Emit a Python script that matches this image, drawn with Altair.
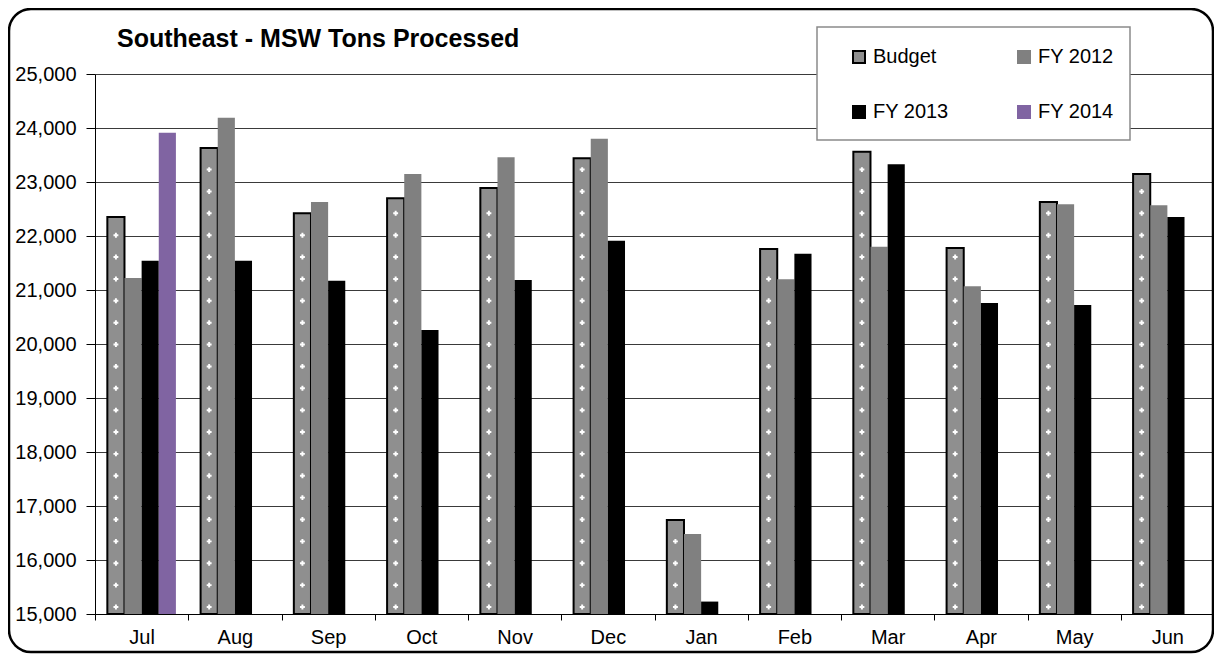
import altair as alt
import pandas as pd

FONT = "Liberation Sans, Arial, sans-serif"

months = ["Jul", "Aug", "Sep", "Oct", "Nov", "Dec", "Jan", "Feb", "Mar", "Apr", "May", "Jun"]
budget = [22350, 23630, 22420, 22700, 22890, 23440, 16740, 21760, 23560, 21780, 22630, 23150]
fy2012 = [21220, 24190, 22630, 23150, 23460, 23800, 16480, 21200, 21800, 21070, 22590, 22570]
fy2013 = [21540, 21540, 21170, 20260, 21185, 21910, 15230, 21670, 23330, 20760, 20720, 22350]
fy2014_months = ["Jul"]
fy2014 = [23910]

series = ["Budget", "FY 2012", "FY 2013", "FY 2014"]
fills = ["#8f8f8f", "#808080", "#000000", "#8064A2"]
strokes = ["#000000", "#808080", "#000000", "#8064A2"]
y_ticks = [15000, 16000, 17000, 18000, 19000, 20000, 21000, 22000, 23000, 24000, 25000]

rows = []
for m, b, a, c in zip(months, budget, fy2012, fy2013):
    rows.append({"month": m, "series": "Budget", "value": b})
    rows.append({"month": m, "series": "FY 2012", "value": a})
    rows.append({"month": m, "series": "FY 2013", "value": c})
for m, v in zip(fy2014_months, fy2014):
    rows.append({"month": m, "series": "FY 2014", "value": v})
df = pd.DataFrame(rows)

# white "+" texture inside the Budget bars (decoration derived from the budget values)
tex = []
for m, b in zip(months, budget):
    lv = 15130
    while lv < b - 150:
        tex.append({"month": m, "series": "Budget", "value": lv})
        lv += 405
tex_df = pd.DataFrame(tex)

x_enc = alt.X(
    "month:N", sort=months,
    scale=alt.Scale(domain=months, paddingInner=0, paddingOuter=0),
    axis=alt.Axis(title=None, labelAngle=0, tickBand="extent", grid=False,
                  labelFont=FONT, labelFontSize=20, labelColor="black",
                  domainColor="black", domainWidth=1, tickColor="black", tickSize=6,
                  labelPadding=7),
)
xo_enc = alt.XOffset("series:N", sort=series,
                     scale=alt.Scale(domain=series, paddingOuter=0.72, paddingInner=0))
y_scale = alt.Scale(domain=[15000, 25000], nice=False, zero=False)

bars = alt.Chart(df).mark_bar().encode(
    x=x_enc,
    xOffset=xo_enc,
    y=alt.Y("value:Q", scale=y_scale,
            axis=alt.Axis(title=None, values=y_ticks, format=",.0f",
                          labelFont=FONT, labelFontSize=20, labelColor="black",
                          tickSize=9, tickColor="black", labelPadding=10,
                          domainColor="black", domainWidth=1,
                          grid=True, gridColor="#3a3a3a", gridWidth=1)),
    y2=alt.datum(15000),
    fill=alt.Fill("series:N", scale=alt.Scale(domain=series, range=fills),
                  legend=alt.Legend(orient="none", legendX=754, legendY=-27, columns=2,
                                    direction="horizontal",
                                    columnPadding=65, rowPadding=35, padding=0,
                                    title=None, symbolType="square", symbolSize=144,
                                    symbolStrokeWidth=2, labelOffset=4,
                                    labelFont=FONT, labelFontSize=20, labelColor="black")),
    stroke=alt.Stroke("series:N", scale=alt.Scale(domain=series, range=strokes), legend=None),
    strokeWidth=alt.condition("datum.series == 'Budget'", alt.value(2), alt.value(0)),
)

pluses = alt.Chart(tex_df).mark_point(shape="cross", filled=True, color="white", size=24, opacity=1).encode(
    x=alt.X("month:N", sort=months),
    xOffset=alt.XOffset("series:N", sort=series),
    y=alt.Y("value:Q", scale=y_scale),
)

one = pd.DataFrame({"k": [0]})
frame = alt.Chart(one).mark_rect(fillOpacity=0, stroke="black", strokeWidth=2.5, cornerRadius=22).encode(
    x=alt.value(-86), x2=alt.value(1118), y=alt.value(-65), y2=alt.value(578))
legend_box = alt.Chart(one).mark_rect(fill="white", stroke="#8a8a8a", strokeWidth=1.5).encode(
    x=alt.value(722), x2=alt.value(1035), y=alt.value(-47), y2=alt.value(66))
title = alt.Chart(one).mark_text(text="Southeast - MSW Tons Processed", font=FONT, fontSize=25,
                                 fontWeight="bold", align="left", baseline="alphabetic",
                                 color="black").encode(x=alt.value(22), y=alt.value(-27))

chart = alt.layer(legend_box, bars, pluses, title, frame).properties(
    width=1119, height=540,
    autosize=alt.AutoSizeParams(type="none"),
    padding={"left": 87, "top": 66, "right": 0, "bottom": 40},
    background="white",
).configure_view(stroke="transparent")

chart.save("out.html", embed_options={"renderer": "svg", "actions": False})
